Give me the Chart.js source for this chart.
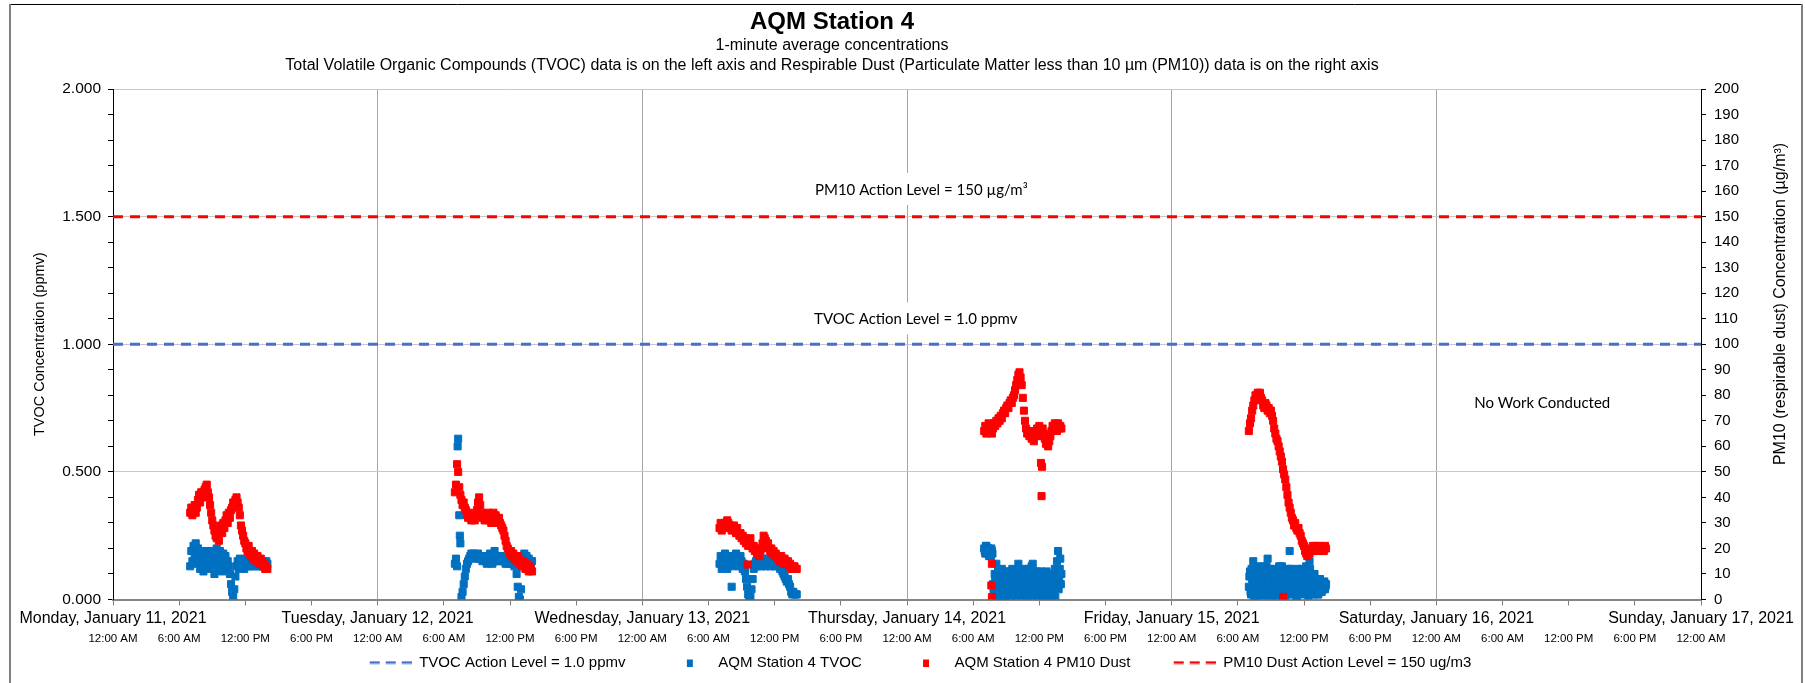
<!DOCTYPE html>
<html><head><meta charset="utf-8">
<script src="https://cdn.jsdelivr.net/npm/chart.js"></script>
<style>html,body{margin:0;padding:0;background:#fff;}#wrap{width:1805px;height:683px;position:relative;}</style>
</head><body><div id="wrap"><canvas id="c" width="1805" height="683"></canvas></div>
<script>
// ---------- DATA ----------
const chartTitle = 'AQM Station 4';
const chartSubtitle = ['1-minute average concentrations','Total Volatile Organic Compounds (TVOC) data is on the left axis and Respirable Dust (Particulate Matter less than 10 \u00b5m (PM10)) data is on the right axis'];
const dayLabels = ['Monday, January 11, 2021','Tuesday, January 12, 2021','Wednesday, January 13, 2021','Thursday, January 14, 2021','Friday, January 15, 2021','Saturday, January 16, 2021','Sunday, January 17, 2021'];
const timeLabels = ['12:00 AM','6:00 AM','12:00 PM','6:00 PM'];
// hours after midnight of each sample
const sampleHours = [7.0,7.1,7.2,7.3,7.4,7.5,7.6,7.7,7.8,7.9,8.0,8.1,8.2,8.3,8.4,8.5,8.6,8.7,8.8,8.9,9.0,9.1,9.2,9.3,9.4,9.5,9.6,9.7,9.8,9.9,10.0,10.1,10.2,10.3,10.4,10.5,10.6,10.7,10.8,10.9,11.0,11.1,11.2,11.3,11.4,11.5,11.6,11.7,11.8,11.9,12.0,12.1,12.2,12.3,12.4,12.5,12.6,12.7,12.8,12.9,13.0,13.1,13.2,13.3,13.4,13.5,13.6,13.7,13.8,13.9,14.0];
// in-between samples (used for the noisy TVOC readings on Thursday and Friday)
const sampleHoursB = [7.05,7.15,7.25,7.35,7.45,7.55,7.65,7.75,7.85,7.95,8.05,8.15,8.25,8.35,8.45,8.55,8.65,8.75,8.85,8.95,9.05,9.15,9.25,9.35,9.45,9.55,9.65,9.75,9.85,9.95,10.05,10.15,10.25,10.35,10.45,10.55,10.65,10.75,10.85,10.95,11.05,11.15,11.25,11.35,11.45,11.55,11.65,11.75,11.85,11.95,12.05,12.15,12.25,12.35,12.45,12.55,12.65,12.75,12.85,12.95,13.05,13.15,13.25,13.35,13.45,13.55,13.65,13.75,13.85,13.95];
// day start (hours since Monday 00:00): Mon, Tue, Wed, Thu, Fri
const dayStart = [0, 24, 48, 72, 96];

const pm10Mon = [34,36,33,35,37,34,36,39,41,38, 42,40,41,43,44,45,42,40,37,34, 31,29,27,25,24,26,23,27,29,26, 30,28,31,33,30,34,32,35,36,38, 37,39,40,38,36,33,29,27,25,23, 22,20,19,21,18,17,19,16,18,17, 15,17,16,14,16,15,13,14,12,13, 12];
const pm10Tue = [42,45,53,50,44,41,39,37,38,36, 35,33,32,34,32,31,33,32,31,33, 35,38,40,37,34,32,33,31,33,32, 34,31,33,30,32,34,31,33,32,30, 32,30,29,28,27,25,23,21,20,19, 18,19,17,18,16,17,15,17,16,14, 15,13,15,14,12,14,13,11,13,12, 11];
const pm10Wed = [28,30,27,29,28,30,29,31,30,28, 29,27,28,29,27,26,28,26,25,26, 24,25,23,24,22,23,21,22,24,21, 20,21,19,20,18,19,17,19,20,22, 25,24,23,21,22,20,19,20,18,19, 17,18,17,16,17,15,17,16,14,16, 15,14,15,13,14,12,13,12,13,12, 12];
const pm10Thu = [66,68,65,67,69,66,68,65,67,69, 68,70,69,71,70,72,71,73,74,73, 75,76,75,77,78,77,79,80,82,84, 86,88,89,87,84,79,74,70,67,65, 66,64,66,63,65,62,64,66,67,65, 68,66,64,67,65,63,61,63,60,62, 64,66,68,67,69,68,66,69,67,68, 67];
const pm10Fri = [66,69,71,74,76,78,80,79,81,80, 81,79,78,76,75,77,76,74,75,73, 74,72,70,67,65,63,62,60,58,56, 54,51,49,47,44,41,38,36,34,32, 31,29,30,28,27,28,26,25,23,22, 21,19,18,17,19,18,20,19,21,20, 19,21,20,19,21,20,19,20,19,21, 20];
// isolated PM10 readings: [hours since Monday 00:00, value]
const pm10Extra = [[57.55,13.7],[84.15,53.5],[84.25,52],[84.2,40.5],[79.7,14],[79.65,5.5],[79.7,1],[106.1,1]];

const tvocMon = [.13,.19,.15,.21,.17,.22,.14,.20,.16,.12, .18,.15,.11,.17,.19,.14,.12,.17,.15,.19, .13,.16,.10,.14,.20,.17,.12,.19,.15,.11, .18,.14,.17,.12,.15,.13,.10,.06,.03,.01, .04,.09,.13,.15,.12,.16,.14,.13,.15,.12, .14,.16,.13,.15,.14,.13,.15,.14,.13,.15, .14,.16,.13,.15,.14,.13,.15,.14,.13,.15, .14];
const tvocTue = [.14,.16,.13,.63,.33,.22,.01,.03,.06,.09, .12,.14,.15,.16,.17,.18,.17,.18,.17,.16, .17,.18,.16,.17,.16,.15,.17,.16,.15,.14, .16,.15,.18,.16,.14,.15,.19,.16,.15,.17, .16,.15,.17,.16,.15,.16,.14,.15,.16,.14, .15,.16,.14,.15,.13,.14,.10,.05,.01,.00, .04,.13,.17,.18,.16,.17,.15,.16,.14,.15, .15];
const tvocWed = [.14,.17,.12,.16,.13,.18,.15,.12,.17,.14, .16,.05,.13,.17,.15,.18,.14,.16,.13,.17, .15,.12,.14,.11,.08,.05,.02,.00,.01,.04, .08,.12,.14,.15,.13,.16,.14,.15,.13,.16, .14,.15,.13,.15,.16,.14,.13,.15,.14,.16, .13,.14,.15,.13,.14,.12,.13,.11,.10,.09, .08,.07,.08,.06,.05,.03,.02,.03,.02,.02, .02];
const tvocThu = [.20,.18,.21,.19,.20,.18,.17,.19,.06,.02, .08,.14,.04,.10,.01,.07,.12,.03,.09,.05, .00,.08,.11,.04,.07,.02,.10,.05,.08,.01, .11,.14,.06,.03,.09,.00,.07,.12,.04,.08, .02,.10,.06,.13,.14,.03,.09,.05,.11,.00, .07,.04,.09,.02,.06,.10,.01,.05,.08,.03, .07,.00,.10,.04,.12,.06,.15,.19,.08,.16, .10];
const tvocFri = [.05,.11,.02,.08,.15,.04,.10,.01,.07,.12, .03,.09,.05,.11,.00,.08,.13,.16,.04,.10, .06,.01,.09,.12,.03,.07,.10,.02,.06,.11, .13,.04,.08,.00,.10,.05,.12,.19,.07,.02, .09,.05,.11,.01,.08,.04,.10,.06,.12,.02, .09,.05,.13,.07,.00,.15,.10,.04,.08,.02, .06,.03,.05,.02,.04,.06,.03,.05,.07,.04, .06];
const tvocThuB = [.19,.21,.18,.20,.17,.19,.20,.18,.04,.10, .06,.00,.11,.05,.09,.02,.07,.10,.00,.06, .11,.03,.06,.09,.00,.12,.03,.07,.10,.04, .05,.09,.02,.11,.05,.08,.03,.10,.01,.06, .12,.04,.08,.01,.07,.11,.02,.08,.06,.10, .03,.11,.00,.08,.04,.07,.11,.03,.06,.10, .02,.09,.05,.08,.01,.11,.09,.04,.12,.06];
const tvocFriB = [.09,.03,.12,.06,.01,.10,.05,.13,.03,.08, .11,.02,.07,.13,.05,.10,.02,.09,.12,.06, .03,.11,.05,.08,.00,.10,.04,.13,.08,.03, .09,.06,.11,.04,.07,.02,.10,.05,.12,.08, .03,.11,.07,.01,.12,.06,.09,.03,.10,.05, .07,.11,.03,.09,.05,.12,.02,.08,.05,.10, .04,.07,.02,.05,.08,.03,.06,.04,.07,.05];
const tvocExtra = [[31.25,0.60],[31.45,0.25]];

const tvocActionLevel = 1.0;   // ppmv
const pm10ActionLevel = 150;   // ug/m3
const axisRange = [0, 144];    // hours since Monday 00:00

const notes = [
  {text:'PM10 Action Level = 150 \u00b5g/m\u00b3', x:73.3, y:160.5, axis:'y2'},
  {text:'TVOC Action Level = 1.0 ppmv', x:72.8, y:1.097, axis:'y'},
  {text:'No Work Conducted', x:129.6, y:0.768, axis:'y'}
];

// ---------- BUILD ----------
function buildSeries(groups, extra){
  const pts = [];
  groups.forEach(([start, hours, vals]) => vals.forEach((v, i) => pts.push({x: start + hours[i], y: v})));
  extra.forEach(p => pts.push({x: p[0], y: p[1]}));
  return pts;
}
const pmPoints = buildSeries([
  [dayStart[0], sampleHours, pm10Mon],[dayStart[1], sampleHours, pm10Tue],[dayStart[2], sampleHours, pm10Wed],
  [dayStart[3], sampleHours, pm10Thu],[dayStart[4], sampleHours, pm10Fri]], pm10Extra);
const tvocPoints = buildSeries([
  [dayStart[0], sampleHours, tvocMon],[dayStart[1], sampleHours, tvocTue],[dayStart[2], sampleHours, tvocWed],
  [dayStart[3], sampleHours, tvocThu],[dayStart[4], sampleHours, tvocFri],
  [dayStart[3], sampleHoursB, tvocThuB],[dayStart[4], sampleHoursB, tvocFriB]], tvocExtra);

const BLUE = '#0070C0', RED = '#FF0000', DASHBLUE = '#4472C4';
const FONT = "'Liberation Sans', Arial, sans-serif";
Chart.defaults.font.family = FONT;
Chart.defaults.color = '#000';

const LW = 78; // legend marker slot width
function dashImg(color){const c=document.createElement('canvas');c.width=LW;c.height=4;const g=c.getContext('2d');g.strokeStyle=color;g.lineWidth=2.5;g.setLineDash([10,6]);g.beginPath();g.moveTo(LW-42,2);g.lineTo(LW,2);g.stroke();return c;}
function sqImg(color){const c=document.createElement('canvas');c.width=LW;c.height=8;const g=c.getContext('2d');g.fillStyle=color;g.fillRect(LW-24,1,6,7);return c;}

const isHalf = v => Math.abs(v*2 - Math.round(v*2)) < 1e-6;

const extrasPlugin = {
  id: 'extras',
  afterDraw(chart){
    const {ctx, scales} = chart;
    ctx.save();
    ctx.textAlign = 'center'; ctx.textBaseline = 'middle'; ctx.fillStyle = '#000';
    // titles
    ctx.font = 'bold 24px ' + FONT;
    ctx.fillText(chartTitle, 832, 22);
    ctx.font = '16px ' + FONT;
    ctx.fillText(chartSubtitle[0], 832, 46);
    ctx.fillText(chartSubtitle[1], 832, 65.6);
    // annotations
    ctx.font = "15px Lato, 'Open Sans', sans-serif";
    notes.forEach(n => {
      const px = scales.x.getPixelForValue(n.x);
      const py = scales[n.axis].getPixelForValue(n.y);
      const w = ctx.measureText(n.text).width;
      ctx.fillStyle = '#fff';
      ctx.fillRect(px - w/2 - 8, py - 17, w + 16, 32);
      ctx.fillStyle = '#000';
      ctx.fillText(n.text, px, py);
    });
    // right axis title (reads bottom to top)
    ctx.font = '16px ' + FONT;
    ctx.translate(1781, 304);
    ctx.rotate(-Math.PI/2);
    ctx.fillText('PM10 (respirable dust) Concentration (\u00b5g/m\u00b3)', 0, 0);
    ctx.restore();
    // outer frame
    ctx.save();
    ctx.strokeStyle = '#000'; ctx.lineWidth = 1;
    ctx.beginPath(); ctx.moveTo(9, 4.5); ctx.lineTo(1803, 4.5); ctx.stroke();
    ctx.strokeStyle = '#808080'; ctx.lineWidth = 2;
    ctx.beginPath(); ctx.moveTo(10, 4); ctx.lineTo(10, 683); ctx.moveTo(1802, 4); ctx.lineTo(1802, 683); ctx.stroke();
    ctx.restore();
  }
};

new Chart(document.getElementById('c'), {
  type: 'scatter',
  data: {
    datasets: [
      {label:'AQM Station 4 PM10 Dust', data: pmPoints, yAxisID:'y2', pointStyle:'rect', pointRadius:5, borderWidth:1, backgroundColor:RED, borderColor:RED},
      {label:'AQM Station 4 TVOC', data: tvocPoints, yAxisID:'y', pointStyle:'rect', pointRadius:5, borderWidth:1, backgroundColor:BLUE, borderColor:BLUE},
      {type:'line', label:'PM10 Dust Action Level = 150 ug/m3', data:[{x:axisRange[0],y:pm10ActionLevel},{x:axisRange[1],y:pm10ActionLevel}], yAxisID:'y2', borderColor:RED, borderWidth:3, borderDash:[10,7], pointRadius:0, fill:false},
      {type:'line', label:'TVOC Action Level = 1.0 ppmv', data:[{x:axisRange[0],y:tvocActionLevel},{x:axisRange[1],y:tvocActionLevel}], yAxisID:'y', borderColor:DASHBLUE, borderWidth:3, borderDash:[10,7], pointRadius:0, fill:false}
    ]
  },
  options: {
    responsive:false, animation:false, devicePixelRatio:1, events:[],
    layout:{padding:{left:0,right:0,top:89,bottom:3}},
    plugins:{
      title:{display:false},
      subtitle:{display:false},
      legend:{position:'bottom', labels:{usePointStyle:true, pointStyleWidth:LW, padding:7.3, font:{size:15}, color:'#000',
        generateLabels: () => [
          {text:'TVOC Action Level = 1.0 ppmv', pointStyle:dashImg(DASHBLUE), datasetIndex:3, fillStyle:DASHBLUE, strokeStyle:DASHBLUE, lineWidth:0, hidden:false},
          {text:'AQM Station 4 TVOC', pointStyle:sqImg(BLUE), datasetIndex:1, fillStyle:BLUE, strokeStyle:BLUE, lineWidth:0, hidden:false},
          {text:'AQM Station 4 PM10 Dust', pointStyle:sqImg(RED), datasetIndex:0, fillStyle:RED, strokeStyle:RED, lineWidth:0, hidden:false},
          {text:'PM10 Dust Action Level = 150 ug/m3', pointStyle:dashImg(RED), datasetIndex:2, fillStyle:RED, strokeStyle:RED, lineWidth:0, hidden:false}
        ]}},
      tooltip:{enabled:false}
    },
    scales:{
      x:{type:'linear', position:'bottom', weight:0, min:axisRange[0], max:axisRange[1],
        ticks:{stepSize:6, autoSkip:false, maxRotation:0, minRotation:0, padding:3, color:'#000', font:{size:16},
          callback:(v)=> (v % 24 === 0) ? dayLabels[v/24] : ''},
        grid:{color: c => (c.tick && c.tick.value % 24 === 0) ? '#a6a6a6' : 'rgba(0,0,0,0)', tickColor:'#7f7f7f', tickLength:6, lineWidth:1},
        border:{color:'#868686', width:2}},
      x2:{type:'linear', position:'bottom', weight:1, min:axisRange[0], max:axisRange[1],
        ticks:{stepSize:6, autoSkip:false, maxRotation:0, minRotation:0, padding:1.6, color:'#000', font:{size:11.5},
          callback:(v)=> timeLabels[Math.round(v/6) % 4]},
        grid:{display:false, drawTicks:false}, border:{display:false}},
      y:{type:'linear', position:'left', min:0, max:2,
        ticks:{stepSize:0.1, autoSkip:false, padding:7, color:'#000', font:{size:15.5}, callback:(v)=> isHalf(v) ? v.toFixed(3) : ''},
        grid:{color: c => (c.tick && isHalf(c.tick.value) && c.tick.value > 0) ? '#c8c8c8' : 'rgba(0,0,0,0)', tickColor:'#000', tickLength:5, lineWidth:1},
        border:{color:'#000', width:1},
        title:{display:true, text:'TVOC Concentration (ppmv)', color:'#000', font:{size:14.5}, padding:{top:31,bottom:0}},
        afterFit: s => { s.width = 113; }},
      y2:{type:'linear', position:'right', min:0, max:200,
        ticks:{stepSize:10, autoSkip:false, padding:8, color:'#000', font:{size:15}},
        grid:{drawOnChartArea:false, tickColor:'#000', tickLength:5},
        border:{color:'#000', width:1},
        afterFit: s => { s.width = 104; }}
    }
  },
  plugins:[extrasPlugin]
});
</script>
</body></html>
